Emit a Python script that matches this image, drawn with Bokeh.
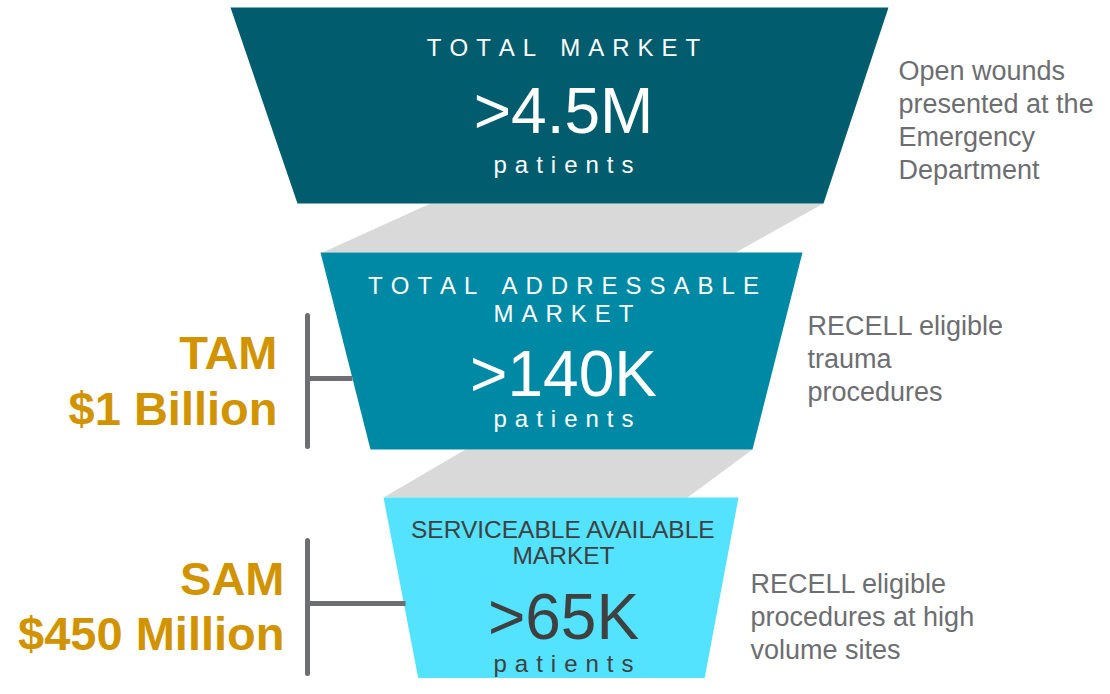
from bokeh.plotting import figure
from bokeh.models import Range1d
from bokeh.core.properties import value
from bokeh.embed import file_html
from bokeh.resources import INLINE

# ---- data ----
stage_titles = [["TOTAL MARKET"], ["TOTAL ADDRESSABLE", "MARKET"], ["SERVICEABLE AVAILABLE", "MARKET"]]
stage_values = [">4.5M", ">140K", ">65K"]
stage_unit = ["patients", "patients", "patients"]
stage_desc = [["Open wounds", "presented at the", "Emergency", "Department"],
              ["RECELL eligible", "trauma", "procedures"],
              ["RECELL eligible", "procedures at high", "volume sites"]]
market_labels = [None, ["TAM", "$1 Billion"], ["SAM", "$450 Million"]]

# ---- layout (pixel space) ----
FONT = value("Liberation Sans")
fill_colors = ["#015C6E", "#0089A5", "#53E3FF"]
text_colors = ["#FFFFFF", "#FFFFFF", "#404040"]
spaced_title = [True, True, False]
title_sizes = ["24px", "24px", "24.5px"]
# trapezoids: (y_top, y_bot, x_top_left, x_top_right, x_bot_left, x_bot_right)
traps = [(7, 203, 230, 888, 297, 823),
         (252, 449, 320, 802, 370, 752),
         (497, 700, 383, 738, 422, 700)]
# gray connectors
connectors = [[(430, 203), (823, 203), (735, 252), (322, 252)],
              [(465, 449), (752, 449), (687, 497), (383, 497)]]
title_mid = [[47], [285, 313], [529, 555]]
value_mid = [110, 373, 616]
unit_mid = [164, 418, 663]
desc_x = [898, 807, 750]
desc_mid = [[70, 103, 136, 169], [325, 358, 391], [583, 616, 649]]
label_right = [None, 277, 284]
label_mid = [None, [352, 408], [578, 633]]
brackets = [None, (307, 315, 446, 378, 352), (307, 540, 673, 603, 405)]

CX = 563

def spaced(s):
    out = []
    for w in s.split(" "):
        out.append("\u2004".join(list(w)))
    return "\u2004\u2004\u2004".join(out)

p = figure(width=1094, height=678, output_backend="svg", toolbar_location=None,
           x_range=Range1d(0, 1094), y_range=Range1d(678, 0),
           min_border=0, outline_line_color=None)
p.axis.visible = False
p.grid.visible = False
p.background_fill_color = "white"

# connectors
p.patches(xs=[[pt[0] for pt in c] for c in connectors],
          ys=[[pt[1] for pt in c] for c in connectors],
          fill_color="#D9D9D9", line_color=None)

# funnels
xs, ys = [], []
for (yt, yb, xtl, xtr, xbl, xbr) in traps:
    xs.append([xtl, xtr, xbr, xbl])
    ys.append([yt, yt, yb, yb])
p.patches(xs=xs, ys=ys, fill_color=fill_colors, line_color=None)

for i in range(3):
    for line, ym in zip(stage_titles[i], title_mid[i]):
        t = spaced(line) if spaced_title[i] else line
        p.text(x=[CX], y=[ym], text=[t], text_font=FONT, text_font_size=title_sizes[i],
               text_color=text_colors[i], text_align="center", text_baseline="middle")
    p.text(x=[CX], y=[value_mid[i]], text=[stage_values[i]], text_font=FONT,
           text_font_size="64px", text_color=text_colors[i], text_align="center",
           text_baseline="middle")
    p.text(x=[CX], y=[unit_mid[i]], text=[spaced(stage_unit[i])], text_font=FONT,
           text_font_size="24px", text_color=text_colors[i], text_align="center",
           text_baseline="middle")
    for line, ym in zip(stage_desc[i], desc_mid[i]):
        p.text(x=[desc_x[i]], y=[ym], text=[line], text_font=FONT, text_font_size="27px",
               text_color="#6D6E71", text_align="left", text_baseline="middle")
    if market_labels[i]:
        for line, ym in zip(market_labels[i], label_mid[i]):
            p.text(x=[label_right[i]], y=[ym], text=[line], text_font=FONT,
                   text_font_size="47px", text_font_style="bold", text_color="#D19400",
                   text_align="right", text_baseline="middle")
        bx, by0, by1, hy, hx = brackets[i]
        p.line([bx, bx], [by0, by1], line_color="#6D6E71", line_width=5, line_cap="round")
        p.line([bx, hx], [hy, hy], line_color="#6D6E71", line_width=5)

open("out.html", "w").write(file_html(p, INLINE))
